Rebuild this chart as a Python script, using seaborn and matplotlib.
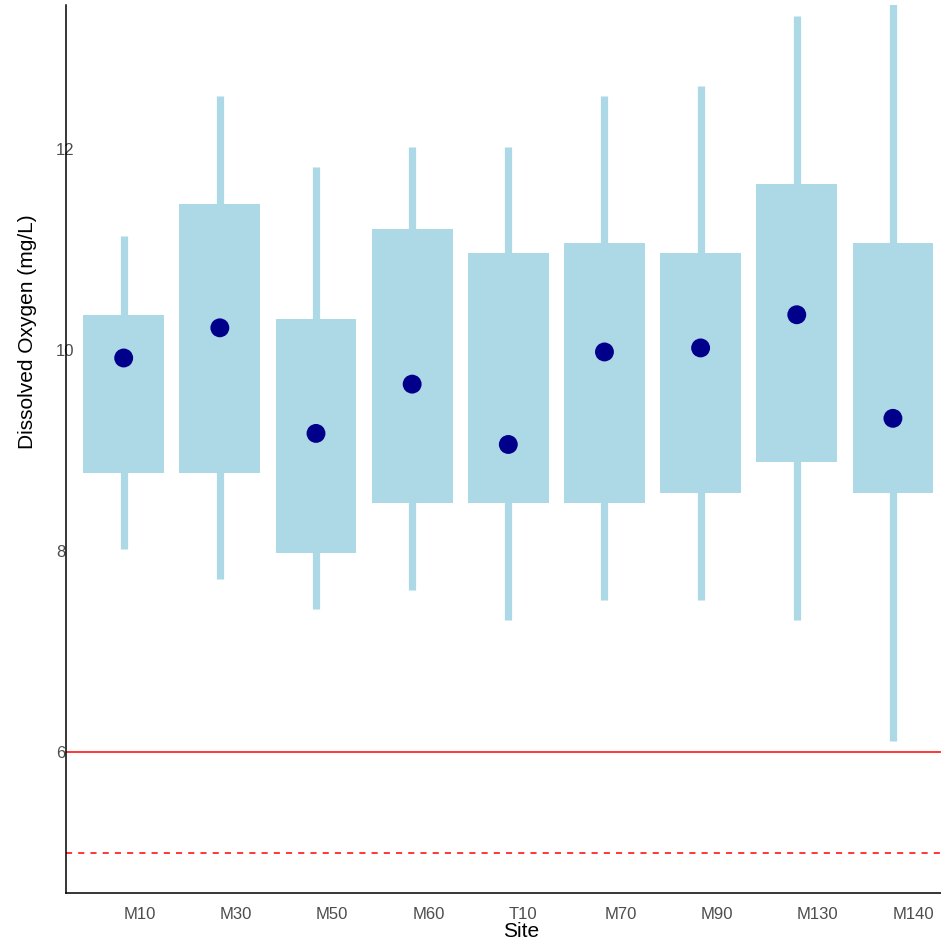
import matplotlib
matplotlib.use("Agg")
import matplotlib.pyplot as plt
import seaborn as sns
import pandas as pd

sites = ["M10", "M30", "M50", "M60", "T10", "M70", "M90", "M130", "M140"]
q25 = [8.78, 8.78, 7.98, 8.48, 8.48, 8.48, 8.58, 8.89, 8.58]
q75 = [10.35, 11.45, 10.31, 11.20, 10.96, 11.06, 10.96, 11.65, 11.06]
wlo = [8.02, 7.72, 7.42, 7.61, 7.31, 7.51, 7.51, 7.31, 6.11]
whi = [11.13, 12.53, 11.82, 12.02, 12.02, 12.53, 12.62, 13.32, 13.45]
means = [9.92, 10.22, 9.17, 9.66, 9.06, 9.98, 10.02, 10.35, 9.32]
yticks = [6, 8, 10, 12]
std_solid = 6
std_dash = 5

df = pd.DataFrame({"Site": sites, "q25": q25, "q75": q75, "wlo": wlo,
                   "whi": whi, "mean": means})

sns.set_theme(style="white")
plt.rcParams["font.family"] = ["Liberation Sans", "DejaVu Sans"]

fig = plt.figure(figsize=(9.41, 9.47), dpi=100)
ax = fig.add_axes([66 / 941, 54 / 947, 875 / 941, 888 / 947])

x = list(range(len(sites)))
ax.vlines(x, df["wlo"], df["whi"], color="#add8e6", linewidth=5.2, zorder=1)
ax.bar(x, df["q75"] - df["q25"], bottom=df["q25"], width=0.84,
       color="#add8e6", edgecolor="none", zorder=2)
sns.scatterplot(data=df, x="Site", y="mean", ax=ax, color="#00008b",
                s=185, edgecolor="none", zorder=3, legend=False)

ax.axhline(std_solid, color="red", linewidth=1.1, zorder=0)
ax.axhline(std_dash, color="red", linewidth=1.1, linestyle=(0, (4, 4)), zorder=0)

ax.set_xlim(-0.6, 8.5)
ax.set_ylim(4.6, 13.43)
ax.set_xticks(x)
ax.set_xticklabels(sites)
ax.set_yticks(yticks)
ax.set_yticklabels([str(t) for t in yticks])
ax.tick_params(axis="x", colors="#4d4d4d", labelsize=12, length=5,
               width=1, pad=5, direction="out")
ax.tick_params(axis="y", colors="#4d4d4d", labelsize=12, length=2.5,
               width=1, pad=4.7, direction="out")
for lab in ax.get_xticklabels():
    lab.set_color("#4d4d4d")
    lab.set_ha("left")
for lab in ax.get_yticklabels():
    lab.set_color("#4d4d4d")
    lab.set_ha("left")
ax.tick_params(axis="x", color="#333333")
ax.tick_params(axis="y", color="#333333")

for side in ["top", "right"]:
    ax.spines[side].set_visible(False)
for side in ["left", "bottom"]:
    ax.spines[side].set_color("black")
    ax.spines[side].set_linewidth(1.1)

ax.set_xlabel("Site", fontsize=15, color="black", labelpad=0)
ax.xaxis.label.set_ha("left")
ax.set_ylabel("Dissolved Oxygen (mg/L)", fontsize=15, color="black", labelpad=14)
ax.yaxis.label.set_ha("left")
ax.grid(False)

fig.savefig("out.png", dpi=100, facecolor="white")
